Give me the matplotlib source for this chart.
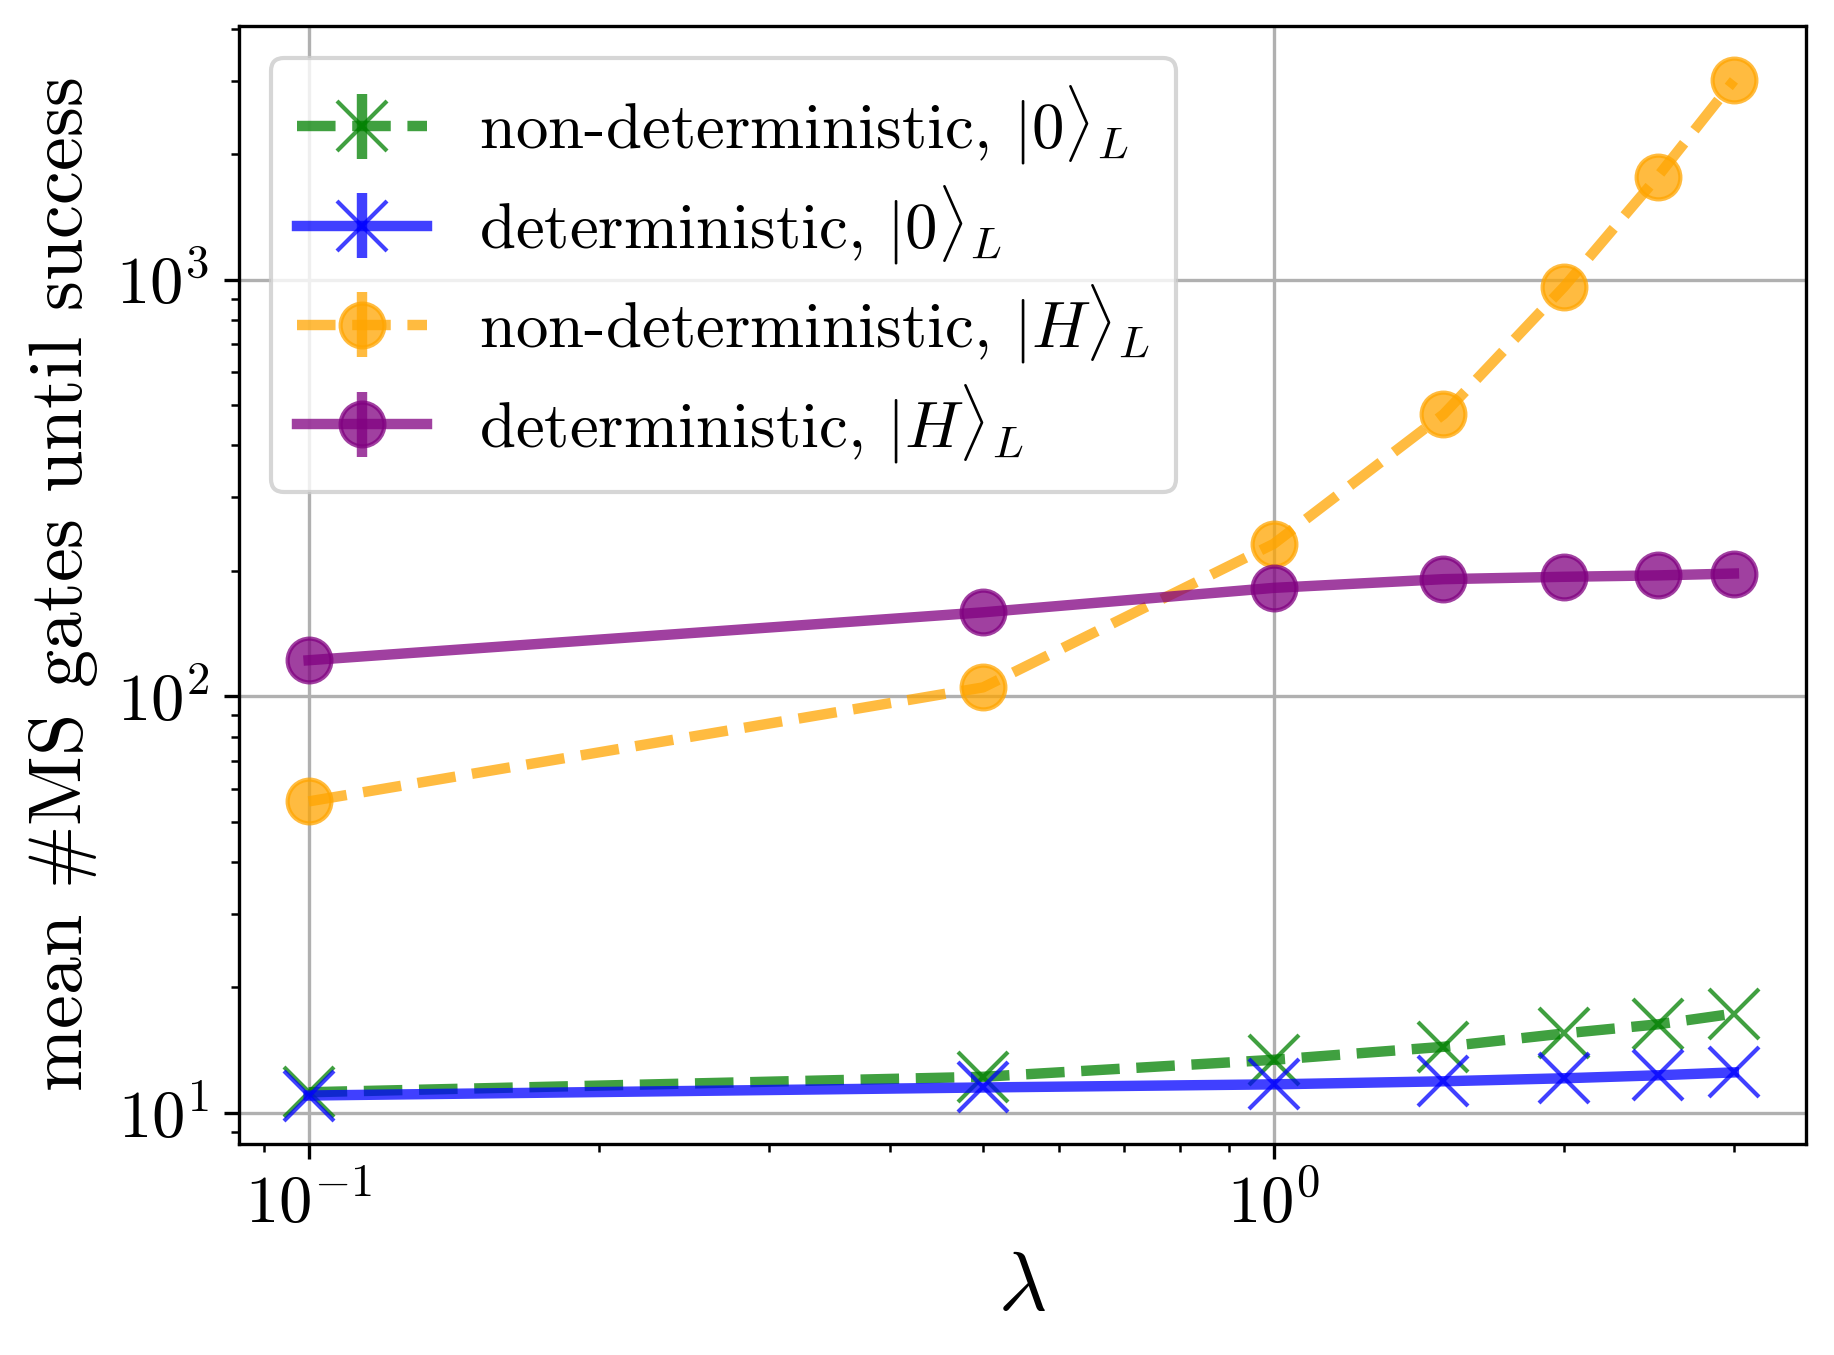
import matplotlib
matplotlib.use("Agg")
import matplotlib.pyplot as plt

plt.rcParams['font.family'] = 'serif'
plt.rcParams['font.serif'] = ['cmr10']
plt.rcParams['mathtext.fontset'] = 'cm'
plt.rcParams['axes.formatter.use_mathtext'] = True
plt.rcParams['axes.unicode_minus'] = False

lam = [0.1, 0.5, 1.0, 1.5, 2.0, 2.5, 3.0]
nondet_0 = [11.2, 12.2, 13.4, 14.4, 15.5, 16.3, 17.3]
det_0 = [11.0, 11.5, 11.7, 11.9, 12.1, 12.3, 12.5]
nondet_H = [55.9, 105, 232, 475, 961, 1766, 3008]
det_H = [122, 159, 182, 191, 193.5, 195, 197]
err_zero = [0, 0, 0, 0, 0, 0, 0]

labels = [r'non-deterministic, $|0\rangle_L$',
          r'deterministic, $|0\rangle_L$',
          r'non-deterministic, $|H\rangle_L$',
          r'deterministic, $|H\rangle_L$']

fig = plt.figure(figsize=(1835/300, 1355/300), dpi=300)
ax = fig.add_axes([0.130, 0.1555, 0.854, 0.8255])

ax.errorbar(lam, nondet_0, yerr=err_zero, color='green', ls='--', marker='x',
            ms=12, lw=2.5, alpha=0.75, label=labels[0])
ax.errorbar(lam, det_0, yerr=err_zero, color='blue', ls='-', marker='x',
            ms=12, lw=2.5, alpha=0.75, label=labels[1])
ax.errorbar(lam, nondet_H, yerr=err_zero, color='orange', ls='--', marker='o',
            ms=10.5, lw=2.5, alpha=0.75, label=labels[2])
ax.errorbar(lam, det_H, yerr=err_zero, color='purple', ls='-', marker='o',
            ms=10.5, lw=2.5, alpha=0.75, label=labels[3])

ax.set_xscale('log')
ax.set_yscale('log')
ax.set_ylim(8.4, 4070)
ax.set_xlim(0.0846, 3.56)
ax.grid(True, which='major')
ax.tick_params(labelsize=16)
ax.set_xlabel(r'$\lambda$', fontsize=20)
ax.set_ylabel(r'mean $\#$MS gates until success', fontsize=18.3)
ax.legend(loc='upper left', fontsize=15.6, labelspacing=0.25, borderpad=0.4)

fig.savefig('out.png', dpi=300)
